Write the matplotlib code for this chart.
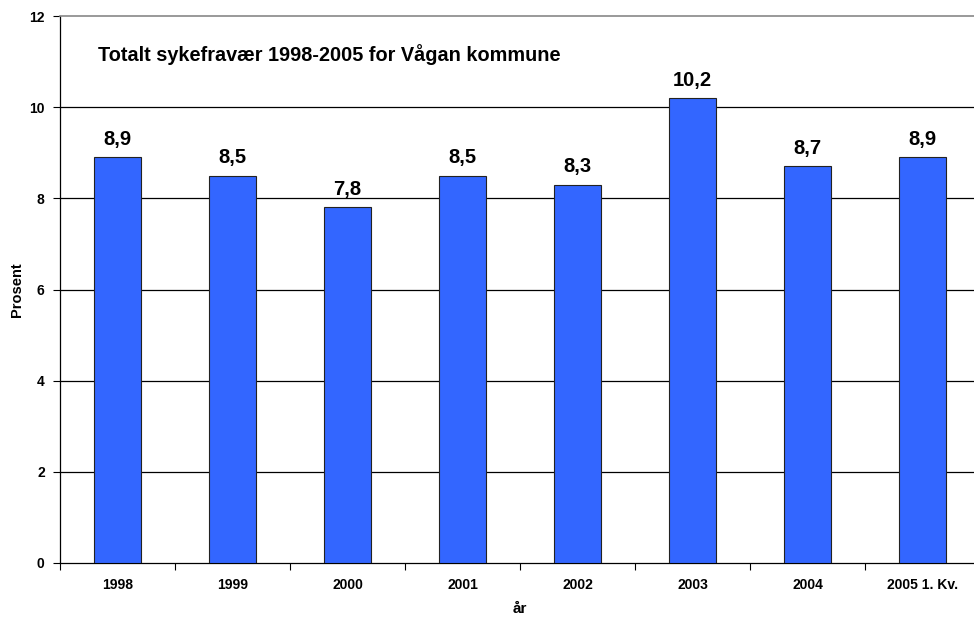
import matplotlib
matplotlib.use("Agg")
import matplotlib.pyplot as plt
import numpy as np

categories = ["1998", "1999", "2000", "2001", "2002", "2003", "2004", "2005 1. Kv."]
values = [8.9, 8.5, 7.8, 8.5, 8.3, 10.2, 8.7, 8.9]
value_labels = ["8,9", "8,5", "7,8", "8,5", "8,3", "10,2", "8,7", "8,9"]
yticks = [0, 2, 4, 6, 8, 10, 12]

plt.rcParams['font.family'] = ['Liberation Sans', 'DejaVu Sans']
plt.rcParams['font.weight'] = 'bold'

fig = plt.figure(figsize=(9.74, 6.17), dpi=100)
W, H = 974, 617
ax = fig.add_axes([60 / W, (H - 563) / H, 920 / W, (563 - 16) / H])

x = np.arange(len(categories))
ax.bar(x, values, width=0.41, color="#3366FF", edgecolor="#222222", linewidth=0.8, zorder=3)

ax.set_xlim(-0.5, len(categories) - 0.5)
ax.set_ylim(0, 12)
ax.set_yticks(yticks)
ax.set_yticklabels([str(t) for t in yticks], fontsize=10, fontweight='bold')
ax.set_xticks(x)
ax.set_xticklabels(categories, fontsize=10, fontweight='bold')
ax.tick_params(axis='x', length=0, pad=11)
ax.set_xticks(np.arange(len(categories) + 1) - 0.5, minor=True)
ax.tick_params(axis='x', which='minor', length=5, width=0.8, direction='out')
ax.tick_params(axis='y', length=5, width=0.8, direction='out', pad=6)

for g in yticks[1:-1]:
    ax.axhline(g, color='black', linewidth=0.9, zorder=1)

for s in ['top', 'right']:
    ax.spines[s].set_color('#888888')
    ax.spines[s].set_linewidth(1.2)
ax.spines['left'].set_color('black')
ax.spines['bottom'].set_color('black')
ax.spines['left'].set_linewidth(0.9)
ax.spines['bottom'].set_linewidth(0.9)

for xi, v, lab in zip(x, values, value_labels):
    ax.annotate(lab, (xi, v), xytext=(0, 6), textcoords='offset points',
                ha='center', va='bottom', fontsize=14.5, fontweight='bold')

fig.text(98 / W, 1 - 55 / H, "Totalt sykefravær 1998-2005 for Vågan kommune",
         ha='left', va='center', fontsize=14.3, fontweight='bold')

fig.text(17 / W, 1 - 290 / H, "Prosent", rotation=90, ha='center', va='center',
         fontsize=10.5, fontweight='bold')
fig.text(520 / W, 1 - 609 / H, "år", ha='center', va='center',
         fontsize=11, fontweight='bold')

fig.savefig("out.png", dpi=100)
